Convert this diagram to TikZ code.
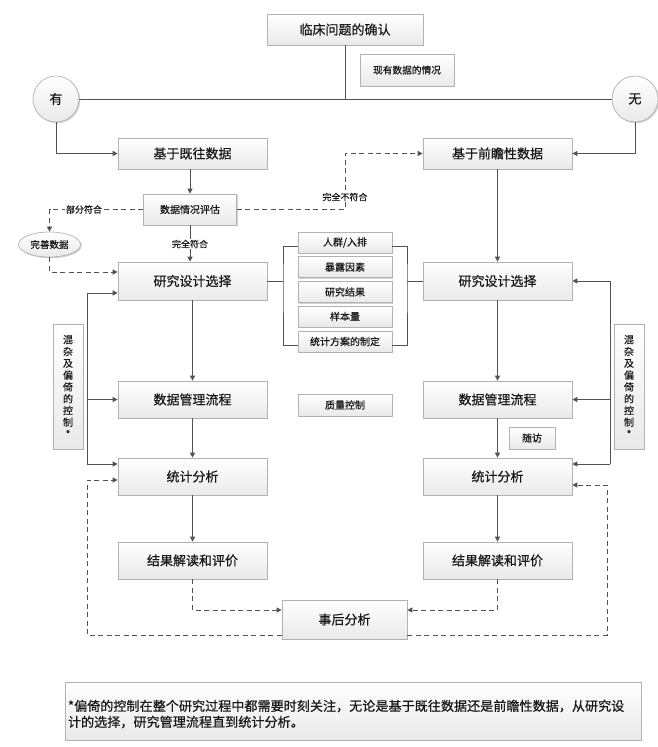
\documentclass[tikz,border=0pt]{standalone}
\usepackage{fontspec}
\setmainfont{Noto Sans CJK SC}[RawFeature={embolden=0.6}]
\usetikzlibrary{arrows.meta,shadows,shapes.geometric,calc}
\begin{document}
\begin{tikzpicture}[x=1pt,y=-1pt,
 box/.style={draw=gray!60, line width=0.7pt, top color=white, bottom color=gray!17,
   drop shadow={opacity=0.35,shadow xshift=1.3pt,shadow yshift=-1.3pt},
   inner sep=0pt, align=center, text=black!90},
 big/.style={box, minimum width=149pt, minimum height=37pt, font=\fontsize{13}{15}\selectfont},
 small/.style={box, minimum width=94pt, minimum height=21pt, font=\fontsize{10}{12}\selectfont},
 circ/.style={box, circle, minimum size=46pt, font=\fontsize{13}{15}\selectfont},
 ln/.style={draw=black!68, line width=0.9pt},
 arr/.style={ln, -{Triangle[length=5pt,width=5pt]}},
 darr/.style={arr, dash pattern=on 5pt off 3.5pt},
 lab/.style={fill=white, inner sep=1pt, font=\fontsize{9}{10}\selectfont, text=black!90}]
\useasboundingbox (0,0) rectangle (658,747);

% top
\node[box, minimum width=156pt, minimum height=31pt, font=\fontsize{13}{15}\selectfont] (top) at (345,29.5) {临床问题的确认};
\node[box, minimum width=94pt, minimum height=32pt, font=\fontsize{9.7}{11}\selectfont] (cur) at (407,70) {现有数据的情况};
\node[circ] (you) at (56,99) {有};
\node[circ] (wu) at (635,99) {无};

\node[big, minimum height=31pt] (hisL) at (192.5,153.5) {基于既往数据};
\node[big, minimum height=31pt] (proR) at (497.5,153.5) {基于前瞻性数据};
\node[small, minimum width=93pt, minimum height=31pt] (eval) at (190,209.5) {数据情况评估};
\node[box, ellipse, minimum width=62pt, minimum height=25pt, font=\fontsize{9.5}{11}\selectfont] (wan) at (49.5,244.5) {完善数据};

% design
\node[big, minimum height=38pt] (rdL) at (192.5,281) {研究设计选择};
\node[big, minimum height=38pt] (rdR) at (497.5,281) {研究设计选择};

\coordinate (bl) at (283,281);
\coordinate (br) at (407,281);

\node[small] (m1) at (345,242.5) {人群/入排};
\node[small] (m2) at (345,267) {暴露因素};
\node[small] (m3) at (345,292) {研究结果};
\node[small] (m4) at (345,316.5) {样本量};
\node[small] (m5) at (345,341.5) {统计方案的制定};

\node[big] (dmL) at (192.5,399.5) {数据管理流程};
\node[big] (dmR) at (497.5,399.5) {数据管理流程};
\node[small, minimum height=22pt] (qc) at (345,405) {质量控制};
\node[small, minimum width=46pt, minimum height=22pt] (fu) at (532,438) {随访};

\node[box, minimum width=30pt, minimum height=125pt, font=\fontsize{10}{11.8}\selectfont] (ctlL) at (68,386.5) {混\\杂\\及\\偏\\倚\\的\\控\\制\\*};
\node[box, minimum width=30pt, minimum height=125pt, font=\fontsize{10}{11.8}\selectfont] (ctlR) at (629,386.5) {混\\杂\\及\\偏\\倚\\的\\控\\制\\*};

\node[big] (sfL) at (192.5,476.5) {统计分析};
\node[big] (sfR) at (497.5,476.5) {统计分析};
\node[big] (reL) at (192.5,560.5) {结果解读和评价};
\node[big] (reR) at (497.5,560.5) {结果解读和评价};
\node[big, minimum width=125pt, minimum height=39pt] (post) at (344.5,619.5) {事后分析};

\node[box, minimum width=576pt, minimum height=58pt] (note) at (353,711) {};
\node[text width=570pt, align=left, inner sep=0pt, text=black!90,
  font=\fontsize{13.1}{16}\selectfont] (notetext) at ([yshift=-3pt]note.center)
  {*偏倚的控制在整个研究过程中都需要时刻关注，无论是基于既往数据还是前瞻性数据，从研究设\\计的选择，研究管理流程直到统计分析。};

% connectors
\draw[ln] (top.south) -- (top.south |- you.east);
\draw[ln] (you.east) -- (wu.west);
\draw[arr] (you.south) |- (hisL.west);
\draw[arr] (wu.south) |- (proR.east);
\draw[arr] (hisL.south -| eval.north) -- (eval.north);

\coordinate (j1) at (345,209.5);
\draw[darr] (eval.east) -- (j1) |- (proR.west);
\node[lab] (l1) at (345,197) {完全不符合};

\draw[darr] (eval.west) -| (wan.north);
\node[lab] (l2) at (84,209.5) {部分符合};
\draw[darr] (wan.south) |- ([yshift=9pt]rdL.west);

\draw[arr] (eval.south) -- (eval.south |- rdL.north);
\node[lab] (l3) at (190,244) {完全符合};

\draw[arr] (proR.south) -- (rdR.north);

% bracket
\draw[ln] (rdL.east) -- (bl);
\draw[ln] ([yshift=-4pt]m1.west) -| (bl) |- ([yshift=-4pt]m5.west);
\draw[ln] (rdR.west) -- (br);
\draw[ln] ([yshift=-4pt]m1.east) -| (br) |- ([yshift=-4pt]m5.east);

\draw[arr] (rdL.south) -- (dmL.north);
\draw[arr] (dmL.south) -- (sfL.north);
\draw[arr] (sfL.south) -- (reL.north);
\draw[arr] (rdR.south) -- (dmR.north);
\draw[arr] (dmR.south) -- (sfR.north);
\draw[arr] (sfR.south) -- (reR.north);

% control lines
\coordinate (lt) at (87,293);
\coordinate (lb) at (87,464);
\draw[ln] (lt) -- (lb);
\draw[arr] (lt) -- (lt -| rdL.west);
\draw[arr] (lt |- dmL.west) -- (dmL.west);
\draw[arr] (lb) -- (lb -| sfL.west);
\coordinate (rt) at (610,281);
\coordinate (rb) at (610,464);
\draw[ln] (rt) -- (rb);
\draw[arr] (rt) -- (rdR.east);
\draw[arr] (rt |- dmR.east) -- (dmR.east);
\draw[arr] (rb) -- (rb -| sfR.east);

% post-hoc
\draw[darr] (reL.south) |- ([yshift=9.5pt]post.west);
\draw[darr] (reR.south) |- ([yshift=9.5pt]post.east);
\coordinate (dl) at (87,480);
\coordinate (dr) at (607,485);
\draw[darr] ([yshift=-15.5pt]post.west) -| (dl) -- (dl -| sfL.west);
\draw[darr] ([yshift=-15.5pt]post.east) -| (dr) -- (dr -| sfR.east);
\end{tikzpicture}
\end{document}
